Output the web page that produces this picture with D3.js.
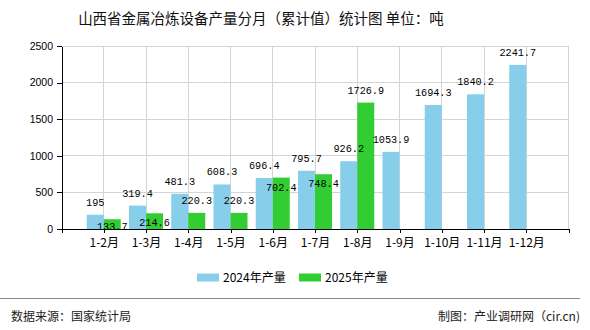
<!DOCTYPE html>
<html>
<head>
<meta charset="utf-8">
<script src="https://cdn.jsdelivr.net/npm/d3@7/dist/d3.min.js"></script>
<style>
  html, body { margin: 0; padding: 0; background: #fff; }
  svg { display: block; }
  .cjk { font-family: "Noto Sans CJK SC", "Noto Sans", sans-serif; }
</style>
</head>
<body>
<svg id="chart" width="590" height="330"></svg>
<script>
// Cumulative monthly output of metallurgical equipment, Shanxi (tonnes)
const categories = ["1-2月", "1-3月", "1-4月", "1-5月", "1-6月", "1-7月", "1-8月", "1-9月", "1-10月", "1-11月", "1-12月"];
const output2024 = [195, 319.4, 481.3, 608.3, 696.4, 795.7, 926.2, 1053.9, 1694.3, 1840.2, 2241.7];
const output2025 = [133.7, 214.6, 220.3, 220.3, 702.4, 748.4, 1726.9, null, null, null, null];
const seriesNames = ["2024年产量", "2025年产量"];
const seriesColors = ["#87CEEB", "#32CD32"];
const yTicks = [0, 500, 1000, 1500, 2000, 2500];

const titleText = "山西省金属冶炼设备产量分月（累计值）统计图 单位：吨";
const sourceText = "数据来源：国家统计局";
const creditText = "制图：产业调研网（cir.cn)";

const svg = d3.select("#chart");
const plot = { left: 61.5, right: 568.5, top: 46, bottom: 229 };
const barW = 17;

const x = d3.scalePoint().domain(categories).range([plot.left, plot.right]).padding(1);
const y = d3.scaleLinear().domain([0, 2500]).range([plot.bottom, plot.top]);

// title
svg.append("text")
  .attr("class", "cjk")
  .attr("x", 261).attr("y", 24)
  .attr("text-anchor", "middle")
  .attr("font-size", 14.5)
  .attr("fill", "#111")
  .text(titleText);

// grid
const grid = svg.append("g").attr("stroke", "#d4d4d4").attr("stroke-width", 1).attr("shape-rendering", "crispEdges");
grid.selectAll("line.h").data(yTicks).join("line")
  .attr("x1", plot.left).attr("x2", plot.right)
  .attr("y1", d => y(d)).attr("y2", d => y(d));
grid.selectAll("line.v").data(categories.concat([null])).join("line")
  .attr("x1", d => d === null ? plot.right : x(d))
  .attr("x2", d => d === null ? plot.right : x(d))
  .attr("y1", plot.top).attr("y2", plot.bottom);

// bars
const series = [output2024, output2025];
series.forEach((vals, si) => {
  svg.append("g").selectAll("rect")
    .data(vals.map((v, i) => ({ c: categories[i], v })).filter(d => d.v !== null))
    .join("rect")
    .attr("x", d => si === 0 ? x(d.c) - barW : x(d.c))
    .attr("width", barW)
    .attr("y", d => y(d.v))
    .attr("height", d => y(0) - y(d.v))
    .attr("fill", seriesColors[si]);
});

// value labels; a 2025 label that would collide with the 2024 label drops inside its bar
const labelFont = "'Liberation Mono', 'DejaVu Sans Mono', monospace";
const labels = svg.append("g").attr("font-family", labelFont).attr("font-size", 10.2).attr("fill", "#000").attr("text-anchor", "middle");
const blueBoxes = {};
output2024.forEach((v, i) => {
  const c = categories[i];
  const t = labels.append("text")
    .attr("x", x(c) - barW / 2)
    .attr("y", y(v) - 9)
    .text(String(v));
  blueBoxes[c] = t.node().getBBox();
});
output2025.forEach((v, i) => {
  if (v === null) return;
  const c = categories[i];
  const t = labels.append("text")
    .attr("x", x(c) + barW / 2)
    .attr("y", y(v) - 9)
    .text(String(v));
  const b = t.node().getBBox();
  const a = blueBoxes[c];
  const overlap = b.x < a.x + a.width && a.x < b.x + b.width && b.y < a.y + a.height && a.y < b.y + b.height;
  if (overlap) t.attr("y", Math.min(y(v) + 13, plot.bottom + 1));
});

// axes
const yAxis = svg.append("g")
  .attr("transform", `translate(${plot.left},0)`)
  .call(d3.axisLeft(y).tickValues(yTicks).tickFormat(d3.format("d")).tickSize(5).tickSizeOuter(0).tickPadding(3.5));
yAxis.selectAll("text").attr("font-family", "'Liberation Sans', Arial, sans-serif").attr("font-size", 10.5).attr("fill", "#000");

const xAxis = svg.append("g")
  .attr("transform", `translate(0,${plot.bottom})`)
  .call(d3.axisBottom(x).tickSize(4).tickSizeOuter(4).tickPadding(5));
xAxis.selectAll("text").attr("class", "cjk").attr("font-size", 12).attr("fill", "#000");
svg.selectAll(".domain, .tick line").attr("stroke", "#000").attr("shape-rendering", "crispEdges");

// legend
const legendX = [197, 299];
seriesNames.forEach((name, i) => {
  svg.append("rect").attr("x", legendX[i]).attr("y", 273.5).attr("width", 22).attr("height", 8).attr("fill", seriesColors[i]);
  svg.append("text").attr("class", "cjk")
    .attr("x", legendX[i] + 26).attr("y", 282)
    .attr("font-size", 12).attr("fill", "#000")
    .text(name);
});

// footer
svg.append("line").attr("x1", 0).attr("x2", 580).attr("y1", 298.5).attr("y2", 298.5)
  .attr("stroke", "#888").attr("stroke-width", 1);
svg.append("text").attr("class", "cjk").attr("x", 11).attr("y", 321)
  .attr("font-size", 12).attr("fill", "#222").text(sourceText);
svg.append("text").attr("class", "cjk").attr("x", 580).attr("y", 321)
  .attr("text-anchor", "end").attr("font-size", 12).attr("fill", "#222").text(creditText);
</script>
</body>
</html>
